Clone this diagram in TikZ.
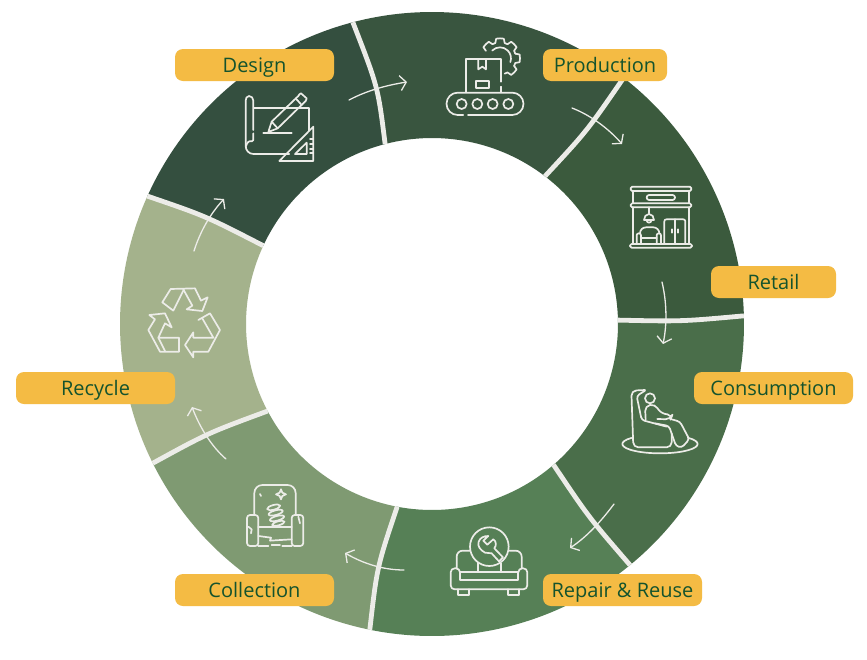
\documentclass[tikz,border=0pt]{standalone}
\usepackage{fontspec}
\setmainfont{Open Sans}
\usetikzlibrary{arrows.meta}
\definecolor{cDesign}{HTML}{344F3F}
\definecolor{cProd}{HTML}{39553F}
\definecolor{cRetail}{HTML}{3B5A3D}
\definecolor{cCons}{HTML}{4A6E4A}
\definecolor{cRepair}{HTML}{568056}
\definecolor{cColl}{HTML}{7F9A72}
\definecolor{cRecy}{HTML}{A4B28C}
\definecolor{cLine}{HTML}{ECECE8}
\definecolor{cLabel}{HTML}{F4BB44}
\definecolor{cText}{HTML}{14532D}
\tikzset{
  sep/.style={draw=cLine,line width=4.8pt},
  flow/.style={draw=cLine,line width=1.3pt,line cap=round,-{Straight Barb[length=6pt,width=15pt,line width=1.3pt]}},
  ico/.style={draw=cLine,line width=1.7pt,line cap=round,line join=round},
  tag/.style={fill=cLabel,rounded corners=8pt,minimum height=32pt,inner sep=0pt,text=cText,text height=15pt,text depth=1pt,font=\fontsize{20}{22}\selectfont,anchor=center}
}
\newcommand{\ringseg}[7]{% colour, outer a1, outer a2, inner a1, inner a2, ctrl1, ctrl2
  \fill[#1] ([shift={(432,324)}]#2:312) arc[start angle=#2,end angle=#3,radius=312]
    .. controls #7 .. ([shift={(432,324)}]#5:186) arc[start angle=#5,end angle=#4,radius=186]
    .. controls #6 .. cycle;}
\begin{document}
\begin{tikzpicture}[x=1pt,y=-1pt]
\useasboundingbox (0,0) rectangle (867,659);
\fill[white] (0,0) rectangle (867,659);
% ring
\ringseg{cDesign}{204.2}{255.3}{204.9}{255.4}{(205.5,216)}{(378,87)}
\ringseg{cProd}{-104.7}{-52.1}{-104.6}{-52.6}{(378,87)}{(587,131)}
\ringseg{cRetail}{-52.1}{-1.5}{-52.6}{-1.2}{(587,131)}{(681.5,321.5)}
\ringseg{cCons}{-1.5}{50.6}{-1.2}{49.2}{(681.5,321.5)}{(588.5,517)}
\ringseg{cRepair}{50.6}{101.5}{49.2}{100.8}{(588.5,517)}{(377,567)}
\ringseg{cColl}{101.5}{153.5}{100.8}{152.1}{(377,567)}{(208,433)}
\ringseg{cRecy}{153.5}{204.2}{152.1}{204.9}{(208,433)}{(205.5,216)}
% separators
\draw[sep] ([shift={(432,324)}]-104.7:312) .. controls (378,87) .. ([shift={(432,324)}]-104.6:186);
\draw[sep] ([shift={(432,324)}]-52.1:312) .. controls (587,131) .. ([shift={(432,324)}]-52.6:186);
\draw[sep] ([shift={(432,324)}]-1.5:312) .. controls (681.5,321.5) .. ([shift={(432,324)}]-1.2:186);
\draw[sep] ([shift={(432,324)}]50.6:312) .. controls (588.5,517) .. ([shift={(432,324)}]49.2:186);
\draw[sep] ([shift={(432,324)}]101.5:312) .. controls (377,567) .. ([shift={(432,324)}]100.8:186);
\draw[sep] ([shift={(432,324)}]153.5:312) .. controls (208,433) .. ([shift={(432,324)}]152.1:186);
\draw[sep] ([shift={(432,324)}]204.2:312) .. controls (205.5,216) .. ([shift={(432,324)}]204.9:186);
% arrows
\coordinate (a1s) at (349,100); \coordinate (a1e) at (407,82);
\coordinate (a2s) at (572,108); \coordinate (a2e) at (622,144);
\coordinate (a3s) at (662,282); \coordinate (a3e) at (663,344);
\coordinate (a4s) at (614,504); \coordinate (a4e) at (570,548);
\coordinate (a5s) at (404,570); \coordinate (a5e) at (345,553);
\coordinate (a6s) at (226,459); \coordinate (a6e) at (192,407);
\coordinate (a7s) at (194,251); \coordinate (a7e) at (224,199);
\draw[flow] (a1s) .. controls (368,90) and (388,85) .. (a1e);
\draw[flow] (a2s) .. controls (590,115) and (608,128) .. (a2e);
\draw[flow] (a3s) .. controls (667,303) and (667,325) .. (a3e);
\draw[flow] (a4s) .. controls (602,520) and (588,536) .. (a4e);
\draw[flow] (a5s) .. controls (384,570) and (364,564) .. (a5e);
\draw[flow] (a6s) .. controls (212,447) and (200,428) .. (a6e);
\draw[flow] (a7s) .. controls (200,232) and (210,214) .. (a7e);
% design icon
\begin{scope}[shift={(230pt,-80pt)},x=.3333pt,y=-.3333pt]
\draw[ico] (70,150) -- (70,62) to[out=90,in=0] (57,48) to[out=180,in=90] (47,62) -- (47,198) to[out=-90,in=180] (70,222) -- (178,222);
\draw[ico] (70,160) -- (70,180) to[out=-90,in=0] (58,184) to[out=180,in=-90] (47,198);
\draw[ico] (72,83) -- (237,83) -- (237,152);
\draw[ico] (100,158) -- (185,158);
\draw[ico] (115,156) -- (125,125) -- (205,48) to[out=45,in=180] (213,40) -- (230,55) to[out=-90,in=45] (222,68) -- (143,145) -- cycle;
\draw[ico] (125,125) -- (143,145) (197,55) -- (215,75);
\draw[ico] (148,243) -- (250,140) -- (250,243) -- cycle;
\draw[ico] (195,222) -- (230,188) -- (230,222) -- cycle;
\draw[ico] (240,178) -- (250,178) (240,192) -- (250,192) (240,206) -- (250,206) (240,220) -- (250,220);
\end{scope}
% production icon
\begin{scope}[shift={(430pt,-20pt)},x=.3333pt,y=-.3333pt]
\draw[ico] (100,285) -- (83,285) arc[start angle=90,end angle=270,radius=33.5] -- (247,218) arc[start angle=-90,end angle=90,radius=33.5] -- (114,285);
\foreach \cx in {95,142,188,235} \draw[ico] (\cx,252) circle[radius=15];
\draw[ico] (108,215) -- (108,118) -- (212,118) -- (212,185);
\draw[ico] (212,200) -- (212,215);
\draw[ico] (145,118) -- (145,148) -- (157,140) -- (168,148) -- (168,118);
\draw[ico] (138,183) rectangle (178,203);
\foreach \a in {-135,-90,-45,0,45} {
  \draw[ico] ([shift={(210,115)}]\a-17:48) -- ([shift={(210,115)}]\a-11:60) arc[start angle=\a-11,end angle=\a+11,radius=60] -- ([shift={(210,115)}]\a+17:48) arc[start angle=\a+17,end angle=\a+28,radius=48];
}
\draw[ico] ([shift={(210,115)}]-135:33) arc[start angle=-135,end angle=20,radius=33];
\end{scope}
% retail icon
\begin{scope}[shift={(610pt,-170pt)},x=.3333pt,y=-.3333pt]
\draw[ico,rounded corners=1.5pt] (62,50) rectangle (244,63);
\draw[ico,rounded corners=1.5pt] (62,100) rectangle (244,112);
\draw[ico] (68,63) -- (68,100) (238,63) -- (238,100) (68,112) -- (68,222) (238,112) -- (238,222);
\draw[ico,rounded corners=2.4pt] (110,75) rectangle (195,90);
\draw[ico,rounded corners=1.5pt] (60,222) rectangle (246,233);
\draw[ico] (117,112) -- (117,130);
\draw[ico] (102,150) to[out=90,in=180] (117,132) to[out=0,in=90] (132,150) -- cycle;
\draw[ico] (110,151) to[out=-90,in=180] (117,158) to[out=0,in=-90] (124,151);
\draw[ico,rounded corners=2pt] (163,222) -- (163,148) -- (226,148) -- (226,222);
\draw[ico] (195,148) -- (195,222) (187,178) -- (187,188) (203,178) -- (203,188);
\draw[ico,rounded corners=6pt] (90,190) -- (90,172) -- (148,172) -- (148,190);
\draw[ico,rounded corners=2pt] (80,222) -- (80,190) -- (93,190) -- (93,222);
\draw[ico,rounded corners=2pt] (140,222) -- (140,190) -- (153,190) -- (153,222);
\draw[ico] (93,205) -- (140,205);
\end{scope}
% consumption icon
\begin{scope}[shift={(600pt,-370pt)},x=.3333pt,y=-.3333pt]
\draw[ico] (180,222) ++(221:113 and 28) arc[start angle=221,end angle=-41,x radius=113,y radius=28];
\draw[ico,rounded corners=5pt] (135,60) -- (94,62) -- (100,232) -- (215,232) -- (215,190);
\draw[ico,rounded corners=3pt] (135,62) -- (110,78) -- (125,150) -- (200,170);
\draw[ico] (150,85) circle[radius=15];
\draw[ico,rounded corners=5pt] (137,148) -- (135,108) -- (165,102) -- (182,130) -- (217,135) -- (212,148) -- (172,147);
\draw[ico,rounded corners=3pt] (215,148) -- (240,155) -- (268,208) -- (245,233) -- (228,228) -- (207,168) -- (165,160);
\end{scope}
% repair icon
\begin{scope}[shift={(430pt,-500pt)},x=.3333pt,y=-.3333pt]
\draw[ico] (178,140) circle[radius=58];
\draw[ico] (175,108) to[out=180,in=70] (146,125) to[out=250,in=150] (165,158) -- (185,160) -- (207,184) -- (219,172) -- (193,145) to[out=50,in=-30] (190,118) -- (172,134) -- (160,122) -- cycle;
\draw[ico,rounded corners=6pt] (80,205) -- (80,152) -- (120,152);
\draw[ico,rounded corners=6pt] (238,152) -- (275,152) -- (275,205);
\draw[ico,rounded corners=4pt] (90,215) -- (90,205) -- (62,205) -- (62,268) -- (292,268) -- (292,205) -- (265,205) -- (265,215);
\draw[ico] (90,215) rectangle (265,240);
\draw[ico] (143,190) -- (143,215) (212,190) -- (212,215);
\draw[ico] (85,268) -- (85,285) -- (118,285) -- (118,268) (235,268) -- (235,285) -- (268,285) -- (268,268);
\end{scope}
% collection icon
\begin{scope}[shift={(225pt,-470pt)},x=.3333pt,y=-.3333pt]
\draw[ico,rounded corners=8pt] (88,135) -- (88,45) -- (212,45) -- (212,135);
\draw[ico] (168,58) -- (172,68) -- (183,73) -- (172,78) -- (168,88) -- (164,78) -- (153,73) -- (164,68) -- cycle;
\draw[ico] (105,72) -- (108,78);
\draw[ico,rounded corners=3pt] (66,228) -- (66,135) -- (100,135) -- (100,228) -- cycle;
\draw[ico,rounded corners=3pt] (200,228) -- (200,135) -- (235,135) -- (235,228) -- cycle;
\draw[ico] (100,172) -- (200,172);
\draw[ico] (100,198) -- (138,203) -- (135,212) -- (200,208);
\draw[ico] (100,228) -- (130,228) (140,225) -- (165,225) (172,228) -- (200,228);
\draw[ico] (70,170) -- (80,178) -- (78,190) (220,140) -- (225,160);
\draw[ico] (146,112) circle[x radius=20,y radius=7,rotate=15];
\draw[ico] (152,128) circle[x radius=22,y radius=7,rotate=15];
\draw[ico] (156,145) circle[x radius=22,y radius=7,rotate=15];
\draw[ico] (160,160) circle[x radius=19,y radius=6,rotate=15];
\end{scope}
% recycle icon
\begin{scope}[shift={(130pt,-270pt)},x=.3333pt,y=-.3333pt]
\draw[ico] (97,97) -- (122,57) -- (195,55) -- (213,92) -- (233,82) -- (217,123) -- (170,118) -- (187,107) -- (160,58);
\draw[ico] (160,62) -- (130,122) (97,97) -- (130,122);
\draw[ico] (147,245) -- (90,245) -- (55,180) -- (75,148) -- (58,135) -- (105,130) -- (125,172) -- (105,160) -- (85,203) -- (147,203) -- cycle;
\draw[ico] (85,203) -- (105,243);
\draw[ico] (205,150) -- (240,130) -- (270,180) -- (235,245) -- (190,245) -- (190,262) -- (165,225) -- (190,187) -- (190,203) -- (250,203) -- (218,147);
\end{scope}
% labels
\node[tag,minimum width=159pt] (design) at (254.5,65) {Design};
\node[tag,minimum width=124pt] (production) at (605,65) {Production};
\node[tag,minimum width=125pt] (retail) at (773.5,282) {Retail};
\node[tag,minimum width=159pt] (consumption) at (773.5,388) {Consumption};
\node[tag,minimum width=159pt] (repair) at (622.5,590) {Repair \& Reuse};
\node[tag,minimum width=159pt] (collection) at (254.5,590) {Collection};
\node[tag,minimum width=159pt] (recycle) at (95.5,388) {Recycle};
\end{tikzpicture}
\end{document}
